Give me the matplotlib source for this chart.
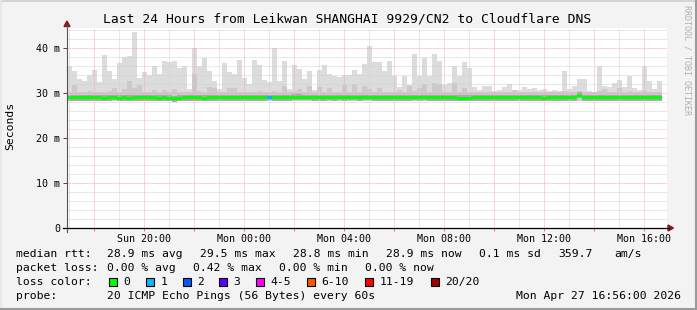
import matplotlib
matplotlib.use("Agg")
import matplotlib.pyplot as plt
import matplotlib.dates as mdates
from matplotlib.patches import Rectangle, Polygon
from matplotlib.lines import Line2D
from matplotlib.ticker import MultipleLocator, FuncFormatter
from datetime import datetime, timedelta

W, H = 697, 310
MONO = "DejaVu Sans Mono"

START = datetime(2026, 4, 26, 16, 56)
END = datetime(2026, 4, 27, 16, 56)
STEP = timedelta(minutes=12)

# smoke: highest ping per 12 minute step (ms)
max_ms = [36.1, 34.8, 33.2, 32.6, 33.9, 35.2, 32.4, 38.5, 34.8, 33.0,
          36.7, 38.0, 38.3, 43.5, 33.3, 34.6, 34.1, 36.1, 34.3, 37.0,
          36.8, 37.0, 35.6, 35.9, 30.9, 40.0, 36.1, 37.8, 34.8, 32.7,
          30.9, 36.7, 34.6, 34.3, 37.4, 33.3, 32.0, 37.4, 36.3, 32.8,
          32.4, 40.0, 32.6, 37.2, 30.9, 36.3, 35.4, 33.0, 34.8, 30.7,
          35.2, 36.3, 34.3, 33.7, 33.6, 34.0, 34.0, 35.0, 34.3, 36.5,
          40.4, 36.8, 36.8, 34.8, 37.0, 33.7, 31.3, 33.8, 31.8, 38.7,
          33.7, 37.8, 33.7, 38.7, 37.0, 31.8, 32.2, 36.1, 33.7, 36.8,
          35.6, 31.3, 30.6, 31.6, 31.6, 30.4, 30.6, 31.3, 32.1, 30.6,
          30.6, 31.3, 30.9, 31.1, 30.7, 30.9, 30.4, 30.7, 30.4, 34.8,
          30.9, 31.6, 33.0, 33.2, 30.4, 30.0, 35.9, 31.6, 31.3, 32.2,
          32.8, 31.3, 33.8, 31.1, 30.7, 36.1, 32.6, 30.9, 32.6]

# smoke: denser inner band top (ms)
mid_ms = [30.3, 31.7, 30.2, 30.2, 30.4, 30.2, 30.3, 30.2, 30.5, 31.1,
          30.3, 30.9, 32.6, 31.0, 31.7, 30.3, 30.2, 30.6, 30.3, 30.7,
          30.2, 30.9, 30.3, 30.2, 30.3, 34.2, 30.4, 30.3, 31.3, 31.2,
          30.2, 30.3, 31.0, 31.1, 30.3, 30.2, 30.3, 30.2, 30.4, 30.3,
          30.2, 30.5, 30.3, 31.5, 30.3, 30.2, 30.9, 30.3, 31.6, 30.2,
          31.3, 30.3, 31.1, 30.3, 30.2, 31.7, 30.3, 32.0, 30.3, 31.5,
          30.9, 30.3, 31.1, 30.2, 30.3, 30.2, 30.6, 30.3, 31.6, 30.4,
          31.1, 32.0, 30.3, 32.2, 32.0, 30.3, 30.2, 32.2, 30.3, 31.2,
          30.3, 30.2, 30.2, 30.3, 30.2, 30.2, 30.3, 30.2, 30.3, 30.6,
          30.2, 30.3, 30.2, 30.2, 30.3, 30.2, 30.2, 30.3, 30.2, 30.4,
          30.2, 30.3, 30.5, 30.2, 30.2, 30.2, 30.4, 30.9, 30.2, 30.3,
          31.1, 30.2, 30.4, 30.2, 30.2, 30.5, 30.3, 30.2, 30.3]

# median rtt (ms)
median_ms = [28.9, 28.9, 28.9, 28.9, 28.9, 28.9, 28.9, 28.8, 28.9, 29.0,
             28.8, 28.9, 28.8, 28.9, 28.9, 28.9, 28.9, 28.9, 28.8, 28.9,
             28.8, 28.7, 28.8, 28.9, 28.9, 28.9, 28.9, 28.8, 28.9, 28.9,
             28.9, 28.9, 28.9, 28.9, 28.9, 28.9, 28.9, 28.9, 28.9, 28.9,
             29.0, 28.9, 28.9, 28.9, 28.9, 29.1, 29.1, 29.0, 29.0, 28.9,
             28.9, 28.9, 29.0, 28.9, 29.0, 28.9, 29.0, 29.0, 28.9, 29.0,
             29.0, 28.9, 28.9, 28.9, 28.9, 28.9, 28.9, 28.9, 28.9, 29.0,
             28.9, 29.0, 28.9, 28.9, 28.9, 28.9, 28.9, 28.9, 28.8, 28.8,
             28.8, 28.9, 28.9, 28.9, 28.9, 28.9, 28.9, 28.9, 28.9, 28.9,
             28.9, 28.9, 28.9, 28.9, 28.9, 28.8, 28.9, 28.9, 28.9, 28.9,
             28.9, 28.9, 29.5, 28.9, 28.9, 28.9, 28.9, 28.9, 28.9, 28.9,
             28.9, 28.9, 28.9, 28.9, 28.9, 28.9, 28.9, 28.9, 28.9]

# lost pings per step (legend bucket index)
loss_bucket = [0] * 40 + [1] + [0] * 78

loss_labels = ["0", "1", "2", "3", "4-5", "6-10", "11-19", "20/20"]
loss_colors = ["#00ff00", "#00b8ff", "#0059ff", "#5e00ff",
               "#ff00ff", "#ff5500", "#ff0000", "#a10000"]

stats_rtt = ["28.9 ms avg", "29.5 ms max", "28.8 ms min", "28.9 ms now",
             "0.1 ms sd", "359.7", "am/s"]
stats_loss = ["0.00 % avg", "0.42 % max", "0.00 % min", "0.00 % now"]


def fx(x):
    return x / W


def fy(y):
    return 1 - y / H


fig = plt.figure(figsize=(W / 100, H / 100), dpi=100, facecolor="#f3f3f3")
ax = fig.add_axes([fx(67), fy(228), 600 / W, 200 / H])
ax.set_facecolor("white")

times = [mdates.date2num(START + i * STEP) for i in range(len(max_ms))]
width = STEP.total_seconds() / 86400
lo = 28.3

ax.bar(times, [m - lo for m in max_ms], bottom=lo, width=width, align="edge",
       color="#dcdcdc", lw=0, zorder=1)
ax.bar(times, [m - lo for m in mid_ms], bottom=lo, width=width, align="edge",
       color="#cacaca", lw=0, zorder=1.1)
ax.bar(times, [1.3] * len(times), bottom=[m - 0.65 for m in median_ms],
       width=width, align="edge", color="#a8a8a8", lw=0, zorder=1.2)
ax.bar(times, [0.66] * len(times), bottom=[m - 0.33 for m in median_ms],
       width=width, align="edge",
       color=[loss_colors[b] for b in loss_bucket], lw=0, zorder=3)

ax.set_xlim(mdates.date2num(START), mdates.date2num(END))
ax.set_ylim(0, 200 / 4.5)

ax.xaxis.set_major_locator(mdates.HourLocator(byhour=range(0, 24, 2)))
ax.xaxis.set_minor_locator(mdates.HourLocator(byhour=range(1, 24, 2)))
ax.xaxis.set_major_formatter(FuncFormatter(
    lambda v, p: mdates.num2date(v).strftime("%a %H:%M")
    if mdates.num2date(v).hour % 4 == 0 else ""))
ax.yaxis.set_major_locator(MultipleLocator(10))
ax.yaxis.set_minor_locator(MultipleLocator(2))
ax.yaxis.set_major_formatter(FuncFormatter(
    lambda v, p: "0" if v == 0 else f"{v:.0f} m"))

ax.set_axisbelow(False)
ax.grid(which="major", color="#f4acac", linestyle=(0, (1, 1)), lw=0.72)
ax.grid(which="minor", color="#d2d2d2", linestyle=(0, (1, 1)), lw=0.72)
for sp in ax.spines.values():
    sp.set_visible(False)

ax.tick_params(axis="x", which="major", length=2.2, width=0.7,
               color="#e87070", pad=2, labelsize=7.2)
ax.tick_params(axis="x", which="minor", length=0)
ax.tick_params(axis="y", which="major", length=2.9, width=0.7,
               color="#444444", pad=2.2, labelsize=7.2)
ax.tick_params(axis="y", which="minor", length=0)
for lab in ax.get_xticklabels() + ax.get_yticklabels():
    lab.set_fontfamily(MONO)

# axes lines and arrows
fig.add_artist(Line2D([fx(67), fx(67)], [fy(232), fy(25)], color="#555555",
                      lw=0.8))
fig.add_artist(Line2D([fx(63), fx(669)], [fy(228), fy(228)], color="black",
                      lw=0.9))
fig.add_artist(Polygon([(fx(64), fy(26.5)), (fx(70), fy(26.5)),
                        (fx(67), fy(21))], closed=True, color="#8b1a1a"))
fig.add_artist(Polygon([(fx(668), fy(225)), (fx(668), fy(231)),
                        (fx(673.5), fy(228))], closed=True, color="#8b1a1a"))

# frame
fig.add_artist(Line2D([0, 1], [fy(0.5), fy(0.5)], color="#cfcfcf", lw=1.2))
fig.add_artist(Line2D([fx(0.5), fx(0.5)], [0, 1], color="#e6e6e6", lw=1.2))
fig.add_artist(Line2D([0, 1], [fy(309), fy(309)], color="#9a9a9a", lw=1.5))
fig.add_artist(Line2D([fx(696), fx(696)], [0, 1], color="#9a9a9a", lw=1.5))

fig.text(fx(347.5), fy(19.5),
         "Last 24 Hours from Leikwan SHANGHAI 9929/CN2 to Cloudflare DNS",
         family=MONO, fontsize=9.4, ha="center", va="center")
fig.text(fx(10), fy(126), "Seconds", family=MONO, fontsize=8.2,
         rotation=90, ha="center", va="center")
fig.text(fx(687), fy(5), "RRDTOOL / TOBI OETIKER", family=MONO,
         fontsize=6, rotation=270, ha="center", va="top", color="#b0b0b0")

leg = dict(family=MONO, fontsize=8.2, va="center", ha="left")
fig.text(fx(16), fy(254), "median rtt:", **leg)
for x, s in zip([107, 200, 293, 386, 479, 558, 614], stats_rtt):
    fig.text(fx(x), fy(254), s, **leg)

fig.text(fx(16), fy(268), "packet loss:", **leg)
for x, s in zip([107, 193, 279, 365], stats_loss):
    fig.text(fx(x), fy(268), s, **leg)

fig.text(fx(16), fy(282), "loss color:", **leg)
for x, lab, col in zip([109, 146, 183, 219, 256, 307, 365, 431],
                       loss_labels, loss_colors):
    fig.add_artist(Rectangle((fx(x), fy(286)), 8 / W, 8 / H,
                             transform=fig.transFigure, facecolor=col,
                             edgecolor="black", lw=0.8))
    fig.text(fx(x + 14.5), fy(282), lab, **leg)

fig.text(fx(16), fy(296), "probe:", **leg)
fig.text(fx(107), fy(296), "20 ICMP Echo Pings (56 Bytes) every 60s", **leg)
fig.text(fx(681), fy(296), "Mon Apr 27 16:56:00 2026",
         family=MONO, fontsize=8.2, va="center", ha="right")

fig.savefig("out.png", dpi=100, facecolor=fig.get_facecolor())
